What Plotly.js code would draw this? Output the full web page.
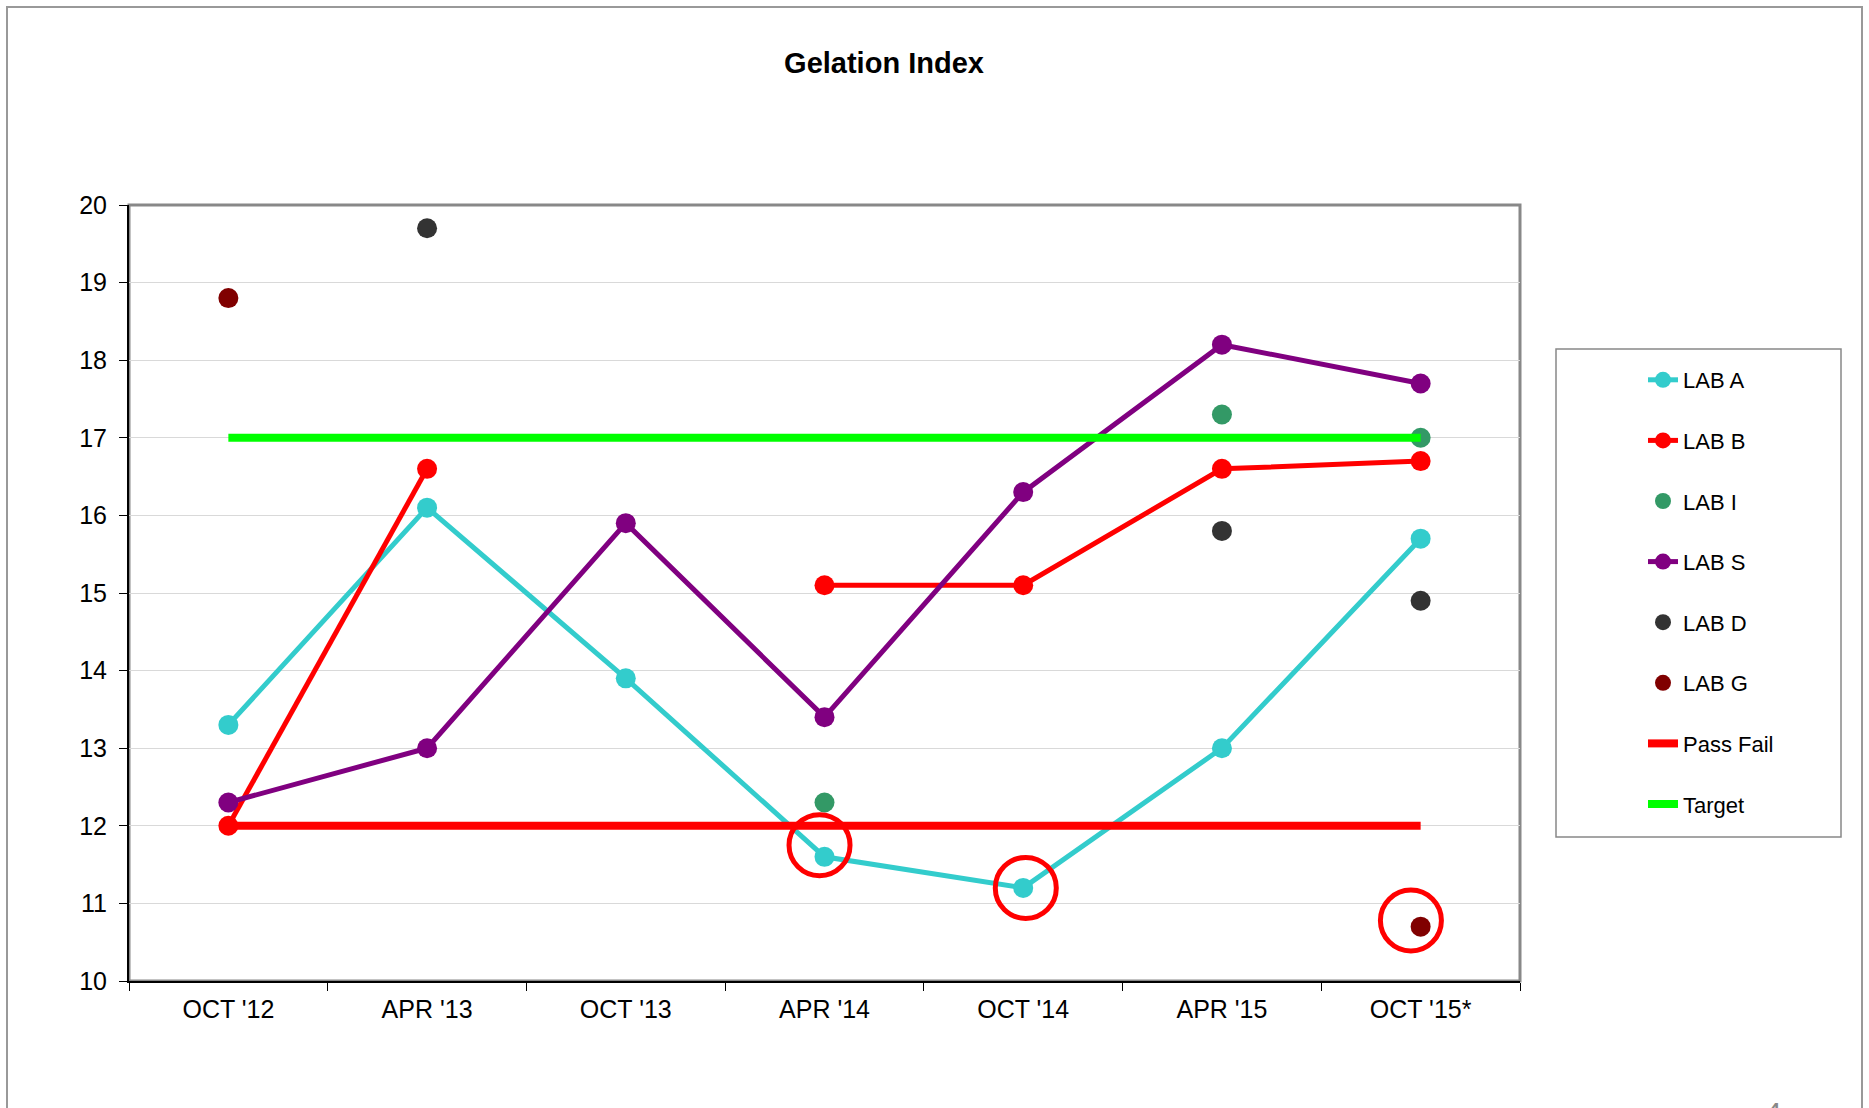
<!DOCTYPE html>
<html>
<head>
<meta charset="utf-8">
<script src="https://cdn.plot.ly/plotly-3.0.1.min.js"></script>
<style>
html,body{margin:0;padding:0;background:#fff;}
#chart{width:1869px;height:1108px;}
</style>
</head>
<body>
<div id="chart"></div>
<script>
const categories = ["OCT '12", "APR '13", "OCT '13", "APR '14", "OCT '14", "APR '15", "OCT '15*"];
const labA = [13.3, 16.1, 13.9, 11.6, 11.2, 13.0, 15.7];
const labB = [12.0, 16.6, null, 15.1, 15.1, 16.6, 16.7];
const labI = [null, null, null, 12.3, null, 17.3, 17.0];
const labS = [12.3, 13.0, 15.9, 13.4, 16.3, 18.2, 17.7];
const labD = [null, 19.7, null, null, null, 15.8, 14.9];
const labG = [18.8, null, null, null, null, null, 10.7];
const passFail = [12, 12, 12, 12, 12, 12, 12];
const target = [17, 17, 17, 17, 17, 17, 17];
const yTicks = [10, 11, 12, 13, 14, 15, 16, 17, 18, 19, 20];
// highlighted points: [category index, value]
const highlights = [[2.975, 11.75], [4.013, 11.2], [5.951, 10.78]];

const FONT = "'Liberation Sans', Arial, sans-serif";
const mk = 20;

function lineTrace(name, y, color) {
  return {type: 'scatter', mode: 'lines+markers', name: name, x: categories, y: y,
    line: {color: color, width: 5}, marker: {color: color, size: mk},
    connectgaps: false, legendgroup: name};
}
function dotTrace(name, y, color) {
  return {type: 'scatter', mode: 'markers', name: name, x: categories, y: y,
    marker: {color: color, size: mk}, legendgroup: name};
}
function refTrace(name, y, color) {
  return {type: 'scatter', mode: 'lines', name: name, x: categories, y: y,
    line: {color: color, width: 8}, legendgroup: name};
}

const data = [
  lineTrace('LAB A', labA, '#33CCCC'),
  lineTrace('LAB B', labB, '#FF0000'),
  dotTrace('LAB I', labI, '#339966'),
  lineTrace('LAB S', labS, '#800080'),
  dotTrace('LAB D', labD, '#333333'),
  dotTrace('LAB G', labG, '#800000'),
  refTrace('Pass Fail', passFail, '#FF0000'),
  refTrace('Target', target, '#00FF00')
];

const L = 129, R = 1520, T = 205, B = 981;
const W = 1869, H = 1108;
const px = v => (v - L) / (R - L);
const py = v => (B - v) / (B - T);

const shapes = [
  {type: 'rect', xref: 'paper', yref: 'paper', x0: 0, x1: 1, y0: 0, y1: 1,
   line: {color: '#888888', width: 3}, layer: 'below'},
  {type: 'rect', xref: 'paper', yref: 'paper', x0: px(7), x1: px(1862), y0: py(1130), y1: py(7),
   line: {color: '#999999', width: 2}, layer: 'below'},
  {type: 'rect', xref: 'paper', yref: 'paper', x0: px(1556), x1: px(1841), y0: py(837), y1: py(349),
   line: {color: '#888888', width: 1.5}, layer: 'below'}
];
highlights.forEach(h => {
  shapes.push({type: 'circle', xref: 'x', yref: 'y',
    x0: h[0] - 0.1535, x1: h[0] + 0.1535, y0: h[1] - 0.393, y1: h[1] + 0.393,
    line: {color: '#FF0000', width: 5}});
});

const layout = {
  width: W, height: H,
  margin: {l: L, r: W - R, t: T, b: H - B, pad: 0},
  paper_bgcolor: '#ffffff', plot_bgcolor: '#ffffff',
  font: {family: FONT, color: '#000000', size: 25},
  title: {text: '<b>Gelation Index</b>', font: {family: FONT, size: 29, color: '#000'},
    xref: 'container', x: 884 / W, xanchor: 'center', yref: 'container', y: 1 - 63 / H, yanchor: 'middle'},
  xaxis: {type: 'category', categoryarray: categories, range: [-0.5, 6.5],
    showgrid: false, showline: true, linecolor: '#000000', linewidth: 2,
    ticks: 'outside', tickson: 'boundaries', ticklen: 8, tickcolor: '#000', tickwidth: 1,
    ticklabelstandoff: 5,
    tickfont: {family: FONT, size: 25}, zeroline: false, fixedrange: true},
  yaxis: {range: [10, 20], tickvals: yTicks, ticktext: yTicks.map(String),
    showgrid: true, gridcolor: '#D9D9D9', gridwidth: 1,
    showline: true, linecolor: '#000000', linewidth: 2,
    ticks: 'outside', ticklen: 8, tickcolor: '#000', tickwidth: 1,
    ticklabelstandoff: 7,
    tickfont: {family: FONT, size: 25}, zeroline: false, fixedrange: true},
  showlegend: true,
  legend: {x: px(1643), xanchor: 'left', y: py(359), yanchor: 'top',
    bgcolor: 'rgba(0,0,0,0)', borderwidth: 0, traceorder: 'grouped', tracegroupgap: 29,
    font: {family: FONT, size: 22, color: '#000'}, itemclick: false, itemdoubleclick: false},
  shapes: shapes,
  annotations: [
    {text: '4', xref: 'paper', yref: 'paper', x: px(1773), y: py(1094), xanchor: 'center', yanchor: 'top',
     showarrow: false, font: {family: FONT, size: 30, color: '#888888'}}
  ]
};

Plotly.newPlot('chart', data, layout, {displayModeBar: false, staticPlot: true});
</script>
</body>
</html>
